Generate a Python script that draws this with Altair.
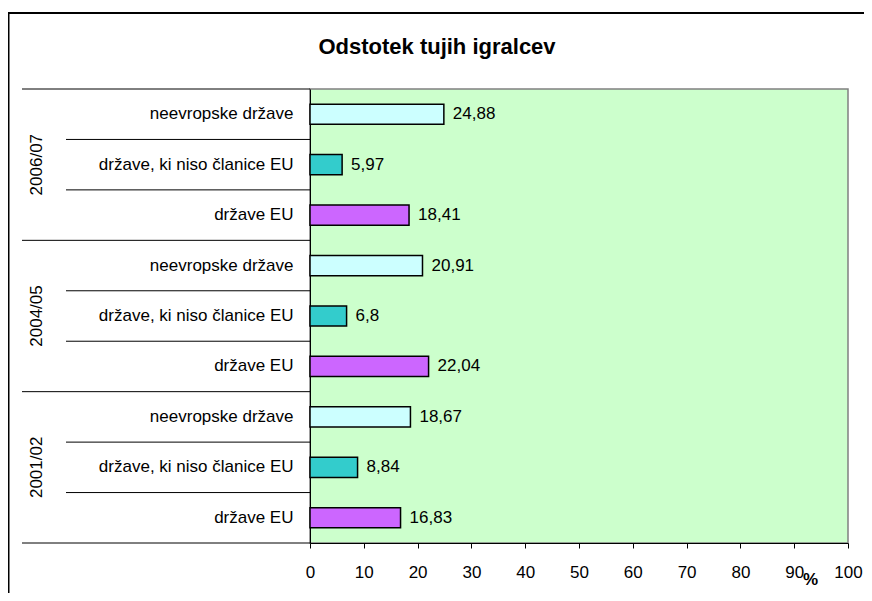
import altair as alt
import pandas as pd

# ---- data ----
seasons = ["2006/07", "2004/05", "2001/02"]
categories = ["neevropske države", "države, ki niso članice EU", "države EU"]
values_2006_07 = [24.88, 5.97, 18.41]
values_2004_05 = [20.91, 6.8, 22.04]
values_2001_02 = [18.67, 8.84, 16.83]
bar_colors = ["#CCFFFF", "#33CCCC", "#CC66FF"]
x_ticks = [0, 10, 20, 30, 40, 50, 60, 70, 80, 90, 100]
chart_title = "Odstotek tujih igralcev"
axis_unit = "%"

# ---- layout ----
W, H = 538, 454
STEP = H / 9
FONT = "Liberation Sans"

rows = []
for s, vals in zip(seasons, [values_2006_07, values_2004_05, values_2001_02]):
    for i, (c, v) in enumerate(zip(categories, vals)):
        rows.append(dict(key=f"{s}|{c}", season=s, category=c, value=v,
                         text=str(v).replace(".", ","), pos=i))
df = pd.DataFrame(rows)
order = list(df["key"])

y_enc = alt.Y(
    "key:N", sort=order,
    scale=alt.Scale(domain=order, paddingInner=0.6, paddingOuter=0.3),
    axis=alt.Axis(title=None, labelExpr="split(datum.label, '|')[1]",
                  ticks=False, tickSize=0, labelPadding=17, labelFontSize=17,
                  labelColor="black", labelLimit=400, domainColor="black",
                  domainWidth=1, grid=False),
)
x_enc = alt.X(
    "value:Q",
    scale=alt.Scale(domain=[0, 100], nice=False, zero=True),
    axis=alt.Axis(values=x_ticks, title=axis_unit, titleX=500, titleY=41,
                  titleAlign="center", titleBaseline="alphabetic",
                  titleFontSize=17, titleFontWeight="bold", titleColor="black",
                  labelFontSize=17, labelColor="black", labelBaseline="alphabetic",
                  labelPadding=29, tickSize=5, tickColor="black",
                  domainColor="black", domainWidth=1, grid=False,
                  labelFlush=False, labelOverlap=False),
)

base = alt.Chart(df)

bars = base.mark_bar(stroke="black", strokeWidth=1.5).encode(
    x=x_enc, y=y_enc,
    color=alt.Color("category:N", scale=alt.Scale(domain=categories, range=bar_colors), legend=None),
)

labels = base.mark_text(align="left", baseline="middle", dx=9, fontSize=17, color="black").encode(
    x="value:Q", y=alt.Y("key:N", sort=order), text="text:N"
)

short_seps = alt.Chart(df[df["pos"] != 0]).mark_rule(color="black", strokeWidth=1, yOffset=-STEP / 2).encode(
    y=alt.Y("key:N", sort=order), x=alt.value(-244), x2=alt.value(0)
)
long_seps = alt.Chart(df[df["pos"] == 0]).mark_rule(color="black", strokeWidth=1, yOffset=-STEP / 2).encode(
    y=alt.Y("key:N", sort=order), x=alt.value(-288), x2=alt.value(0)
)
bottom_sep = alt.Chart(df.tail(1)).mark_rule(color="black", strokeWidth=1, yOffset=STEP / 2).encode(
    y=alt.Y("key:N", sort=order), x=alt.value(-288), x2=alt.value(0)
)

group_labels = alt.Chart(df[df["pos"] == 1]).mark_text(
    angle=270, align="center", baseline="middle", fontSize=17, color="black"
).encode(y=alt.Y("key:N", sort=order), x=alt.value(-273), text="season:N")

title = alt.Chart(alt.Data(values=[{"t": chart_title}])).mark_text(
    align="center", baseline="alphabetic", fontSize=22, fontWeight="bold", color="black"
).encode(x=alt.value(127), y=alt.value(-35), text="t:N")

frame_top = alt.Chart(alt.Data(values=[{"a": 1}])).mark_rule(color="black", strokeWidth=2).encode(
    x=alt.value(-302), x2=alt.value(700), y=alt.value(-76)
)
frame_left = alt.Chart(alt.Data(values=[{"a": 1}])).mark_rule(color="black", strokeWidth=2).encode(
    x=alt.value(-301.5), y=alt.value(-76), y2=alt.value(700)
)

chart = alt.layer(
    bars, labels, short_seps, long_seps, bottom_sep, group_labels, title, frame_top, frame_left
).properties(
    width=W, height=H, autosize="none",
    padding={"left": 302, "top": 81, "right": 16, "bottom": 50},
).configure(font=FONT).configure_view(
    fill="#CCFFCC", stroke="#808080", strokeWidth=1.5
)

chart.save("out.html", embed_options={"renderer": "svg", "actions": False})
